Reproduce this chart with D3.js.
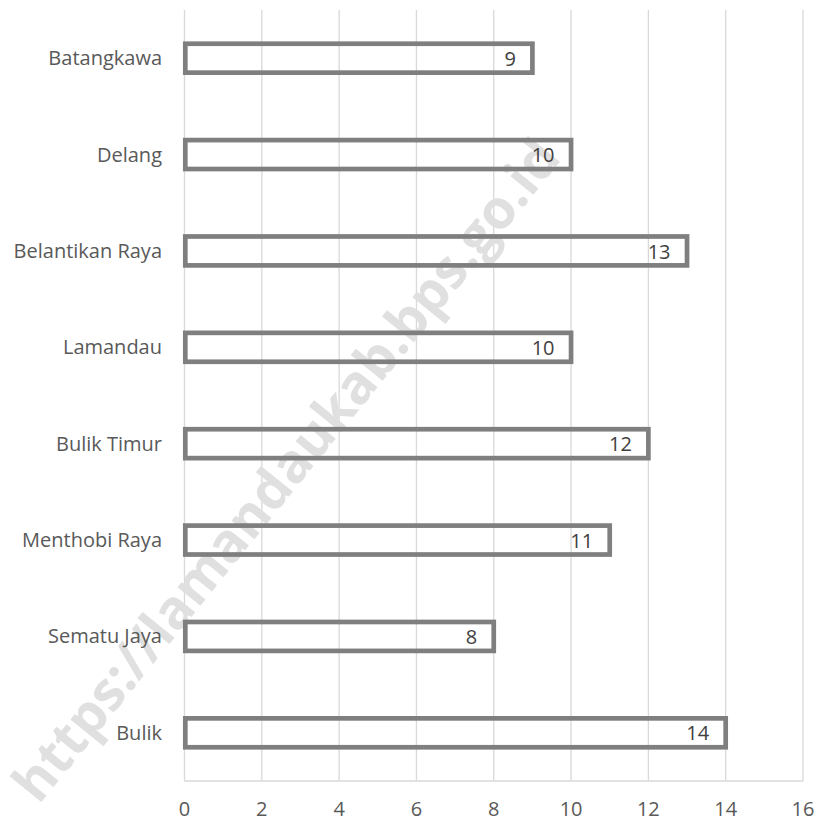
<head>
<script src="https://d3js.org/d3.v7.min.js"></script>
</head>
<body style="margin:0;background:#fff">
<div id="chart"></div>
<script>
// data
const categories = ["Batangkawa", "Delang", "Belantikan Raya", "Lamandau",
                    "Bulik Timur", "Menthobi Raya", "Sematu Jaya", "Bulik"];
const values = [9, 10, 13, 10, 12, 11, 8, 14];
const xTicks = [0, 2, 4, 6, 8, 10, 12, 14, 16];
const watermark = "https://lamandaukab.bps.go.id";

const width = 818,
      height = 823;
const font = "'Open Sans', sans-serif";

const svg = d3.select("#chart").append("svg")
    .attr("width", width)
    .attr("height", height)
    .style("font-family", font);

const x = d3.scaleLinear().domain([0, 16]).range([184.5, 803]);
const y = d3.scaleBand().domain(categories).range([10, 781])
    .paddingInner(0.7).paddingOuter(0.35);

// vertical gridlines
svg.append("g")
  .selectAll("line")
  .data(xTicks)
  .join("line")
    .attr("x1", d => x(d)).attr("x2", d => x(d))
    .attr("y1", 10).attr("y2", 781)
    .attr("stroke", "#d9d9d9")
    .attr("stroke-width", 1.3);

// bottom axis line
svg.append("line")
    .attr("x1", x(0)).attr("x2", x(16))
    .attr("y1", 781).attr("y2", 781)
    .attr("stroke", "#d9d9d9")
    .attr("stroke-width", 1.3);

// tick labels
svg.append("g")
  .selectAll("text")
  .data(xTicks)
  .join("text")
    .attr("x", d => x(d))
    .attr("y", 816)
    .attr("text-anchor", "middle")
    .attr("font-size", 20)
    .attr("fill", "#595959")
    .text(d => d);

// watermark
svg.append("text")
    .attr("transform", "translate(286,470) rotate(-51)")
    .attr("text-anchor", "middle")
    .attr("dy", "0.35em")
    .attr("font-size", 54)
    .attr("font-weight", "bold")
    .attr("fill", "#e0e0e0")
    .text(watermark);

const rows = categories.map((c, i) => ({ name: c, value: values[i] }));

// bars: outlined, no fill
svg.append("g")
  .selectAll("rect")
  .data(rows)
  .join("rect")
    .attr("x", x(0) + 0.8)
    .attr("y", d => y(d.name))
    .attr("width", d => x(d.value) - x(0) - 0.8)
    .attr("height", y.bandwidth())
    .attr("fill", "none")
    .attr("stroke", "#7f7f7f")
    .attr("stroke-width", 4.7);

// category labels
svg.append("g")
  .selectAll("text")
  .data(rows)
  .join("text")
    .attr("x", 162)
    .attr("y", d => y(d.name) + y.bandwidth() / 2)
    .attr("dy", "0.35em")
    .attr("text-anchor", "end")
    .attr("font-size", 20)
    .attr("fill", "#595959")
    .text(d => d.name);

// value labels inside the bar end
svg.append("g")
  .selectAll("text")
  .data(rows)
  .join("text")
    .attr("x", d => x(d.value) - 16.5)
    .attr("y", d => y(d.name) + y.bandwidth() / 2)
    .attr("dy", "0.38em")
    .attr("text-anchor", "end")
    .attr("font-size", 20)
    .attr("fill", "#404040")
    .text(d => d.value);
</script>
</body>
